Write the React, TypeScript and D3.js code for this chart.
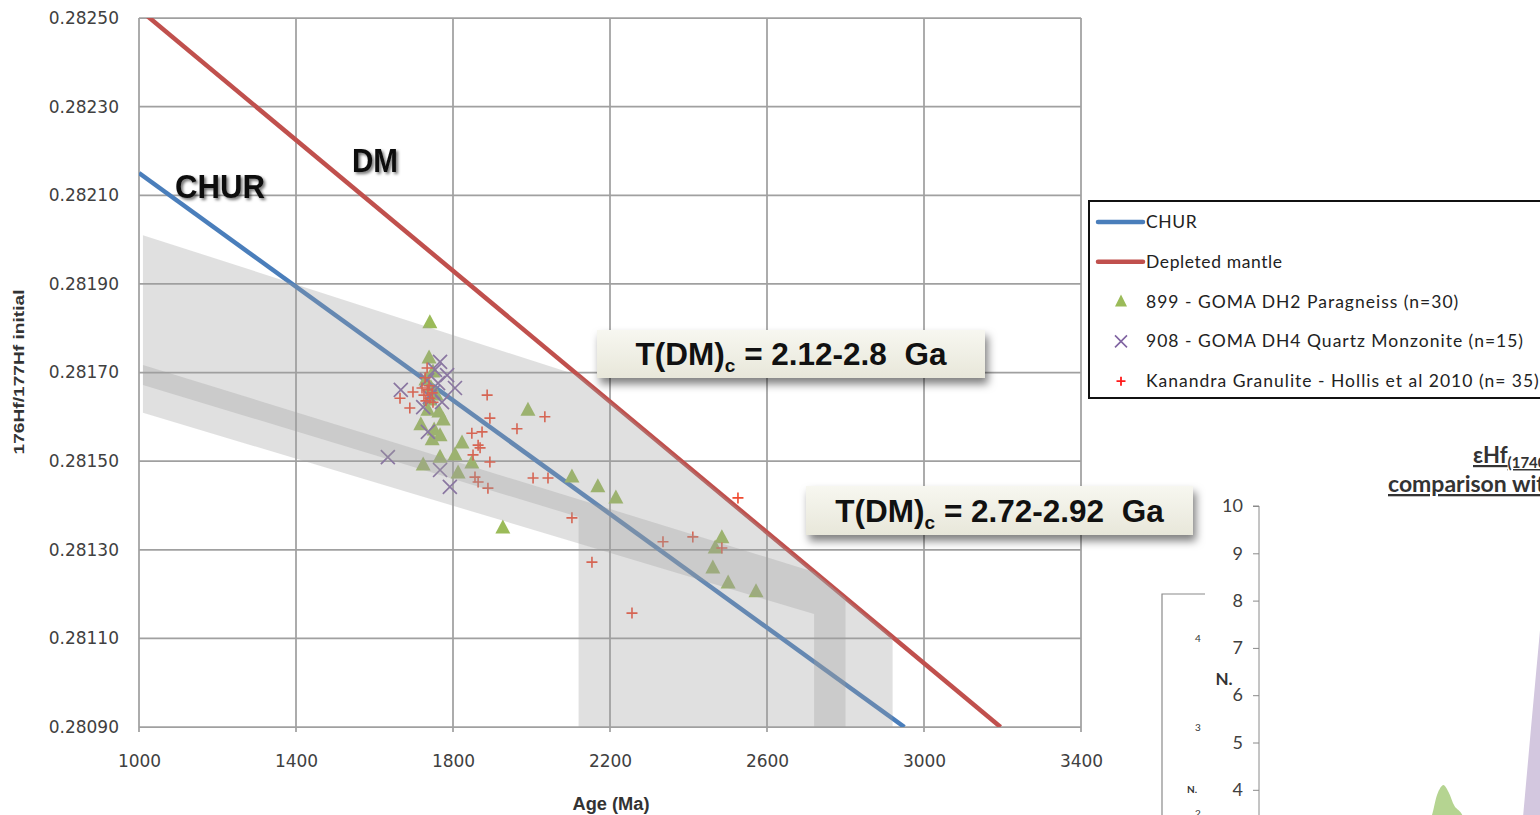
import React, { useEffect, useRef } from "react";
import * as d3 from "d3";

// axis ticks
const ageTicks = [1000, 1400, 1800, 2200, 2600, 3000, 3400];
const hfTicks = [0.2809, 0.2811, 0.2813, 0.2815, 0.2817, 0.2819, 0.2821, 0.2823, 0.2825];

// model lines (age Ma, 176Hf/177Hf)
const churAge = [1000, 2950];
const churHf = [0.28215, 0.2809];
const dmAge = [1000, 3195];
const dmHf = [0.28252, 0.2809];

// T(DM)c envelopes, outline vertices
const env1Age = [1010, 2120, 2800, 2800, 2120, 2120, 1010];
const env1Hf = [0.28201, 0.281693, 0.281191, 0.2809, 0.2809, 0.281374, 0.281672];
const env2Age = [1010, 2720, 2920, 2920, 2720, 2720, 1010];
const env2Hf = [0.281717, 0.28125, 0.281102, 0.2809, 0.2809, 0.281155, 0.281609];

// 899 - GOMA DH2 Paragneiss
const paraAge = [1741, 1739, 1749, 1757, 1736, 1764, 1718, 1752, 1767, 1724, 1767, 1805, 1823, 1813, 1848, 1927, 1991, 2103, 2169, 2215, 2485, 2468, 2462, 2501, 2572, 1744, 1731, 1775, 1741, 1747];
const paraHf = [0.281812, 0.281733, 0.281701, 0.281649, 0.281615, 0.281611, 0.281582, 0.28157, 0.281557, 0.281491, 0.281509, 0.281514, 0.281541, 0.281473, 0.281496, 0.281349, 0.281615, 0.281464, 0.281442, 0.281417, 0.281327, 0.281304, 0.281259, 0.281225, 0.281205, 0.281665, 0.281683, 0.281593, 0.281638, 0.281548];

// 908 - GOMA DH4 Quartz Monzonite
const monzAge = [1667, 1767, 1754, 1734, 1762, 1805, 1741, 1772, 1724, 1785, 1736, 1634, 1767, 1792, 1749];
const monzHf = [0.281661, 0.281724, 0.281706, 0.281683, 0.281676, 0.281665, 0.281645, 0.281633, 0.281622, 0.281694, 0.281566, 0.281509, 0.28148, 0.281442, 0.281656];

// Kanandra Granulite - Hollis et al 2010
const kanAge = [1734, 1729, 1665, 1698, 1690, 1721, 1736, 1747, 1726, 1741, 1731, 1749, 1739, 1887, 1894, 1963, 2034, 1848, 1874, 1864, 1869, 1851, 1894, 1856, 1864, 1889, 2004, 2042, 2103, 2154, 2256, 2335, 2411, 2485, 2526];
const kanHf = [0.28171, 0.281688, 0.281642, 0.281656, 0.28162, 0.281665, 0.281661, 0.281654, 0.281649, 0.281642, 0.281636, 0.281633, 0.28167, 0.281649, 0.281597, 0.281573, 0.2816, 0.281563, 0.281566, 0.281536, 0.28153, 0.281514, 0.281498, 0.281464, 0.281453, 0.281439, 0.281462, 0.281462, 0.281372, 0.281272, 0.281157, 0.281318, 0.281329, 0.281304, 0.281417];

const legendLabels = [
  "CHUR",
  "Depleted mantle",
  "899 - GOMA DH2 Paragneiss (n=30)",
  "908 - GOMA DH4 Quartz Monzonite (n=15)",
  "Kanandra Granulite - Hollis et al 2010 (n= 35)",
];

// partial eHf histogram on the right
const nTicks = [4, 5, 6, 7, 8, 9, 10];
const greenEhf = [-9.6, -9.0, -8.5, -8.1, -7.75, -7.4, -7.0, -6.5, -5.9];
const greenN = [2.0, 3.0, 3.47, 3.95, 4.1, 3.95, 3.65, 3.47, 2.0];
const purpleEhf = [-3.4, -2.45, -1.9, -1.33, -0.9, -0.5, 3, 3];
const purpleN = [1.5, 3.45, 5.4, 7.37, 9.0, 10.2, 10.2, 0];

const W = 1540;
const H = 815;
const margin = { left: 139, right: 1081, top: 18, bottom: 727 };

const App = () => {
  const svgRef = useRef<SVGSVGElement>(null);

  useEffect(() => {
    const svg = d3.select(svgRef.current);
    svg.selectAll("*").remove();

    const x = d3.scaleLinear().domain([1000, 3400]).range([margin.left, margin.right]);
    const y = d3.scaleLinear().domain([0.2809, 0.2825]).range([margin.bottom, margin.top]);

    const defs = svg.append("defs");
    defs
      .append("clipPath")
      .attr("id", "plot-clip")
      .append("rect")
      .attr("x", margin.left)
      .attr("y", margin.top)
      .attr("width", margin.right - margin.left)
      .attr("height", margin.bottom - margin.top);

    const textShadow = defs.append("filter").attr("id", "text-shadow").attr("x", "-20%").attr("y", "-30%").attr("width", "140%").attr("height", "170%");
    textShadow
      .append("feDropShadow")
      .attr("dx", 2)
      .attr("dy", 2)
      .attr("stdDeviation", 1.6)
      .attr("flood-color", "#000")
      .attr("flood-opacity", 0.55);

    const boxShadow = defs.append("filter").attr("id", "box-shadow").attr("x", "-10%").attr("y", "-20%").attr("width", "125%").attr("height", "170%");
    boxShadow
      .append("feDropShadow")
      .attr("dx", 3)
      .attr("dy", 6)
      .attr("stdDeviation", 4)
      .attr("flood-color", "#000")
      .attr("flood-opacity", 0.5);

    const grad = defs.append("linearGradient").attr("id", "box-fill").attr("x1", 0).attr("y1", 0).attr("x2", 0).attr("y2", 1);
    grad.append("stop").attr("offset", "0%").attr("stop-color", "#f7f7f0");
    grad.append("stop").attr("offset", "100%").attr("stop-color", "#e8e7da");

    // gridlines
    svg
      .append("g")
      .selectAll("line")
      .data(ageTicks)
      .enter()
      .append("line")
      .attr("x1", (d) => x(d))
      .attr("x2", (d) => x(d))
      .attr("y1", margin.top)
      .attr("y2", margin.bottom + 5)
      .attr("stroke", "#a0a0a0")
      .attr("stroke-width", 1.75);

    svg
      .append("g")
      .selectAll("line")
      .data(hfTicks)
      .enter()
      .append("line")
      .attr("x1", margin.left)
      .attr("x2", margin.right)
      .attr("y1", (d) => y(d))
      .attr("y2", (d) => y(d))
      .attr("stroke", "#a0a0a0")
      .attr("stroke-width", 1.75);

    // tick labels
    const xAxis = d3.axisBottom(x).tickValues(ageTicks).tickSize(0).tickPadding(28).tickFormat(d3.format("d"));
    svg
      .append("g")
      .attr("transform", `translate(0,${margin.bottom})`)
      .call(xAxis)
      .call((g) => g.select(".domain").remove())
      .selectAll("text")
      .attr("font-family", "DejaVu Sans")
      .attr("font-size", 17)
      .style("fill", "#404040");

    const yAxis = d3.axisLeft(y).tickValues(hfTicks).tickSize(0).tickPadding(20).tickFormat(d3.format(".5f"));
    svg
      .append("g")
      .attr("transform", `translate(${margin.left},0)`)
      .call(yAxis)
      .call((g) => g.select(".domain").remove())
      .selectAll("text")
      .attr("font-family", "DejaVu Sans")
      .attr("font-size", 17)
      .style("fill", "#404040");

    // axis titles
    svg
      .append("text")
      .attr("transform", "translate(24,372) rotate(-90)")
      .attr("text-anchor", "middle")
      .attr("font-family", "Liberation Sans")
      .attr("font-weight", "bold")
      .attr("font-size", 15)
      .attr("textLength", 165)
      .attr("lengthAdjust", "spacingAndGlyphs")
      .style("fill", "#333")
      .text("176Hf/177Hf initial");

    svg
      .append("text")
      .attr("x", 611)
      .attr("y", 810)
      .attr("text-anchor", "middle")
      .attr("font-family", "Liberation Sans")
      .attr("font-weight", "bold")
      .attr("font-size", 18)
      .attr("textLength", 77)
      .attr("lengthAdjust", "spacingAndGlyphs")
      .style("fill", "#333")
      .text("Age (Ma)");

    const plot = svg.append("g").attr("clip-path", "url(#plot-clip)");
    const pathLine = d3.line();

    const churPts = churAge.map((a, i) => [x(a), y(churHf[i])] as [number, number]);
    const dmPts = dmAge.map((a, i) => [x(a), y(dmHf[i])] as [number, number]);

    plot
      .append("path")
      .attr("d", pathLine(churPts))
      .attr("fill", "none")
      .attr("stroke", "#4a7ebb")
      .attr("stroke-width", 4.5);

    plot
      .append("path")
      .attr("d", pathLine(dmPts))
      .attr("fill", "none")
      .attr("stroke", "#c0504d")
      .attr("stroke-width", 4.5);

    // markers
    const triPath = "M0,-8.5L7.5,5.5L-7.5,5.5Z";
    plot
      .selectAll(".tri")
      .data(paraAge)
      .enter()
      .append("path")
      .attr("class", "tri")
      .attr("d", triPath)
      .attr("transform", (d, i) => `translate(${x(d)},${y(paraHf[i])})`)
      .attr("fill", "#9bbb59");

    const crossPath = "M-7,-7L7,7M-7,7L7,-7";
    plot
      .selectAll(".cross")
      .data(monzAge)
      .enter()
      .append("path")
      .attr("class", "cross")
      .attr("d", crossPath)
      .attr("transform", (d, i) => `translate(${x(d)},${y(monzHf[i])})`)
      .attr("fill", "none")
      .attr("stroke", "#8064a2")
      .attr("stroke-width", 1.7);

    const plusPath = "M-5.5,0L5.5,0M0,-5.5L0,5.5";
    plot
      .selectAll(".plus")
      .data(kanAge)
      .enter()
      .append("path")
      .attr("class", "plus")
      .attr("d", plusPath)
      .attr("transform", (d, i) => `translate(${x(d)},${y(kanHf[i])})`)
      .attr("fill", "none")
      .attr("stroke", "#f04a30")
      .attr("stroke-width", 1.6);

    // T(DM)c envelopes, drawn translucent over everything
    const envs = [
      { age: env1Age, hf: env1Hf },
      { age: env2Age, hf: env2Hf },
    ];
    envs.forEach((e) => {
      const pts = e.age.map((a, i) => [x(a), y(e.hf[i])] as [number, number]);
      plot
        .append("path")
        .attr("d", pathLine(pts) + "Z")
        .attr("fill", "#a0a0a0")
        .attr("fill-opacity", 0.32);
    });

    // CHUR / DM labels
    svg
      .append("text")
      .attr("x", 175)
      .attr("y", 198)
      .attr("font-family", "Liberation Sans")
      .attr("font-weight", "bold")
      .attr("font-size", 33)
      .attr("textLength", 90)
      .attr("lengthAdjust", "spacingAndGlyphs")
      .attr("filter", "url(#text-shadow)")
      .style("fill", "#111")
      .text("CHUR");

    svg
      .append("text")
      .attr("x", 352)
      .attr("y", 172)
      .attr("font-family", "Liberation Sans")
      .attr("font-weight", "bold")
      .attr("font-size", 33)
      .attr("textLength", 46)
      .attr("lengthAdjust", "spacingAndGlyphs")
      .attr("filter", "url(#text-shadow)")
      .style("fill", "#111")
      .text("DM");

    // T(DM)c callouts
    const callouts = [
      { x: 597, y: 330, w: 388, h: 48, range: "2.12-2.8" },
      { x: 806, y: 486, w: 387, h: 49, range: "2.72-2.92" },
    ];
    callouts.forEach((c) => {
      const g = svg.append("g");
      g.append("rect")
        .attr("x", c.x)
        .attr("y", c.y)
        .attr("width", c.w)
        .attr("height", c.h)
        .attr("fill", "url(#box-fill)")
        .attr("filter", "url(#box-shadow)");
      const t = g
        .append("text")
        .attr("x", c.x + c.w / 2)
        .attr("y", c.y + c.h / 2 + 11)
        .attr("text-anchor", "middle")
        .attr("font-family", "Liberation Sans")
        .attr("font-weight", "bold")
        .attr("font-size", 31.5)
        .style("fill", "#111");
      t.append("tspan").text("T(DM)");
      t.append("tspan").attr("font-size", 19).attr("dy", 7).text("c");
      t.append("tspan").attr("dy", -7).text(` = ${c.range}\u00a0 Ga`);
    });

    // legend
    const legend = svg.append("g");
    legend
      .append("rect")
      .attr("x", 1089)
      .attr("y", 201)
      .attr("width", 480)
      .attr("height", 197)
      .attr("fill", "#fff")
      .attr("stroke", "#111")
      .attr("stroke-width", 2);

    legendLabels.forEach((label, i) => {
      const cy = 222 + i * 39.8;
      if (i === 0 || i === 1) {
        legend
          .append("line")
          .attr("x1", 1098)
          .attr("x2", 1143)
          .attr("y1", cy)
          .attr("y2", cy)
          .attr("stroke", i === 0 ? "#4a7ebb" : "#c0504d")
          .attr("stroke-width", 4.5)
          .attr("stroke-linecap", "round");
      } else if (i === 2) {
        legend.append("path").attr("d", "M0,-7L6,5L-6,5Z").attr("transform", `translate(1121,${cy})`).attr("fill", "#9bbb59");
      } else if (i === 3) {
        legend
          .append("path")
          .attr("d", "M-6,-6L6,6M-6,6L6,-6")
          .attr("transform", `translate(1121,${cy})`)
          .attr("stroke", "#8064a2")
          .attr("stroke-width", 1.6);
      } else {
        legend
          .append("path")
          .attr("d", "M-4.5,0L4.5,0M0,-4.5L0,4.5")
          .attr("transform", `translate(1121,${cy})`)
          .attr("stroke", "#ff1a1a")
          .attr("stroke-width", 1.8);
      }
      legend
        .append("text")
        .attr("x", 1146)
        .attr("y", cy + 6)
        .attr("font-family", "Lato")
        .attr("font-size", 17.5)
        .attr("letter-spacing", i < 2 ? 0.6 : 1)
        .style("fill", "#222")
        .text(label);
    });

    // right: partial eHf histogram
    const ex = d3.scaleLinear().domain([-20, 0]).range([1259, 1560]);
    const ny = d3.scaleLinear().domain([0, 10]).range([979, 506]);

    const purpleArea = d3
      .line<number>()
      .x((d) => ex(d))
      .y((d, i) => ny(purpleN[i]));
    svg
      .append("path")
      .attr("d", purpleArea(purpleEhf) + "Z")
      .attr("fill", "#d3c7df");

    const greenLine = d3
      .line<number>()
      .x((d) => ex(d))
      .y((d, i) => ny(greenN[i]))
      .curve(d3.curveCatmullRom);
    svg
      .append("path")
      .attr("d", greenLine(greenEhf) + "Z")
      .attr("fill", "#b5d491");

    const nAxis = d3.axisLeft(ny).tickValues(nTicks).tickSize(6).tickPadding(10).tickFormat(d3.format("d"));
    const nAxisG = svg.append("g").attr("transform", "translate(1259,0)").call(nAxis);
    nAxisG.select(".domain").attr("stroke", "#8a8a8a").attr("d", `M-6,${ny(10)}H0V${H + 5}`);
    nAxisG.selectAll(".tick line").attr("stroke", "#8a8a8a");
    nAxisG.selectAll("text").attr("font-family", "Lato").attr("font-size", 18).style("fill", "#404040");

    // frame of a smaller chart lying behind
    svg
      .append("path")
      .attr("d", `M1205,594H1162V${H + 5}`)
      .attr("fill", "none")
      .attr("stroke", "#8a8a8a")
      .attr("stroke-width", 1.2);
    const small = [
      { x: 1198, y: 642, t: "4", s: 10, b: false },
      { x: 1198, y: 731, t: "3", s: 10, b: false },
      { x: 1198, y: 817, t: "2", s: 10, b: false },
      { x: 1224, y: 685, t: "N.", s: 17, b: true },
      { x: 1192, y: 793, t: "N.", s: 10, b: true },
    ];
    small.forEach((s) => {
      svg
        .append("text")
        .attr("x", s.x)
        .attr("y", s.y)
        .attr("text-anchor", "middle")
        .attr("font-family", "Lato")
        .attr("font-weight", s.b ? "bold" : "normal")
        .attr("font-size", s.s)
        .style("fill", "#333")
        .text(s.t);
    });

    const title = svg
      .append("text")
      .attr("x", 1473)
      .attr("y", 463)
      .attr("font-family", "Lato")
      .attr("font-weight", "bold")
      .attr("font-size", 22)
      .attr("text-decoration", "underline")
      .style("fill", "#333");
    title.append("tspan").text("\u03b5Hf");
    title.append("tspan").attr("font-size", 15).attr("dy", 5).text("(1740 Ma)");

    svg
      .append("text")
      .attr("x", 1388)
      .attr("y", 492)
      .attr("font-family", "Lato")
      .attr("font-weight", "bold")
      .attr("font-size", 23)
      .attr("text-decoration", "underline")
      .style("fill", "#333")
      .text("comparison with");
  }, []);

  return (
    <svg
      ref={svgRef}
      width={W}
      height={H}
      style={{ position: "absolute", left: 0, top: 0, background: "#fff" }}
    />
  );
};

export default App;
